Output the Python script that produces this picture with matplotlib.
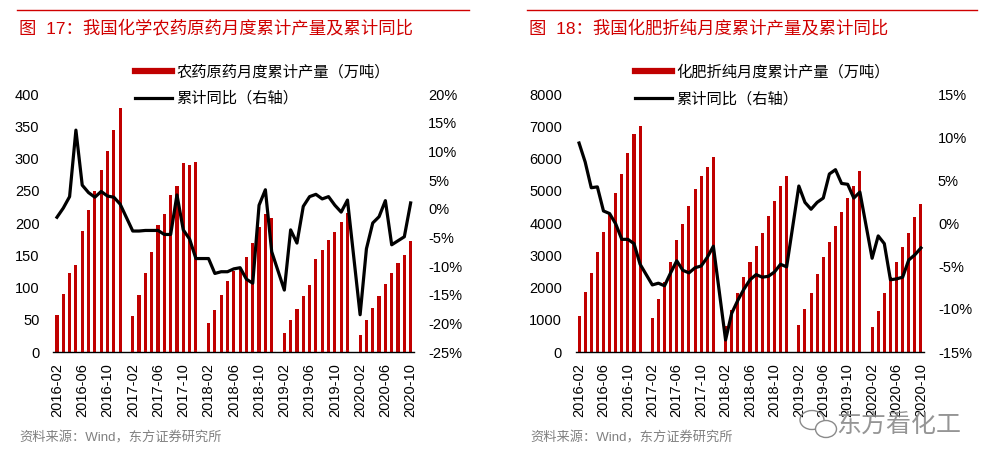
import numpy as np
import matplotlib
matplotlib.use("Agg")
import matplotlib.pyplot as plt
from matplotlib.lines import Line2D
from matplotlib.patches import Ellipse
from matplotlib.ticker import FuncFormatter

plt.rcParams['font.family'] = ['Liberation Sans', 'Noto Sans CJK SC']

# -----------------------
# Data (None = January, not reported)
# -----------------------
months = [f"{y}-{m:02d}" for y in range(2016, 2021) for m in range(1, 13)]
months = months[1:months.index("2020-10") + 1]

pesticide_output = [57, 90, 122, 135, 188, 220, 250, 282, 312, 344, 378, None,
                    56, 88, 122, 155, 197, 214, 243, 257, 293, 290, 295, None,
                    45, 65, 89, 110, 126, 128, 148, 169, 194, 214, 208, None,
                    30, 49, 67, 87, 104, 144, 158, 174, 186, 202, 215, None,
                    26, 50, 68, 87, 106, 122, 138, 150, 172]
pesticide_yoy = [-1.5, 0.1, 2.1, 13.7, 4.1, 2.8, 2.0, 3.0, 2.2, 2.0, 0.8, None,
                 -3.9, -3.9, -3.8, -3.8, -3.8, -4.5, -4.5, 2.4, -3.7, -5.3, -8.7, None,
                 -8.7, -11.3, -11.0, -11.0, -10.5, -10.3, -12.3, -13.0, 0.6, 3.3, -7.5, None,
                 -14.2, -3.7, -6.0, 0.4, 2.1, 2.5, 1.7, 2.1, 0.6, -0.6, 1.5, None,
                 -18.5, -7.0, -2.5, -1.4, 1.4, -6.3, -5.6, -4.9, 1.0]

fertilizer_output = [1108, 1853, 2453, 3095, 3716, 4296, 4927, 5517, 6178, 6758, 7006, None,
                     1046, 1658, 2173, 2806, 3468, 3965, 4523, 5051, 5455, 5725, 6035, None,
                     798, 1295, 1832, 2329, 2806, 3291, 3676, 4213, 4679, 5144, 5455, None,
                     829, 1326, 1832, 2412, 2950, 3397, 3912, 4337, 4781, 5144, 5620, None,
                     776, 1273, 1832, 2330, 2795, 3260, 3676, 4191, 4586]
fertilizer_yoy = [9.3, 7.1, 4.1, 4.2, 1.4, 1.1, -0.1, -1.9, -1.9, -2.4, -4.8, None,
                  -7.2, -7.0, -7.3, -5.8, -4.4, -5.5, -5.8, -5.2, -5.0, -4.0, -2.7, None,
                  -13.6, -10.5, -9.0, -7.7, -6.6, -6.0, -6.3, -6.2, -5.7, -4.8, -5.1, None,
                  4.3, 2.4, 1.6, 2.4, 2.9, 5.7, 6.2, 4.6, 4.5, 2.9, 3.6, None,
                  -4.1, -1.5, -2.4, -6.6, -6.5, -6.3, -4.3, -3.7, -2.9]

W, H = 991, 467
BAR_RED = '#C00000'
TITLE_RED = '#D00000'
GREY = '#808080'

fig = plt.figure(figsize=(W / 100, H / 100), dpi=100)


def panel(x0, x1, xpad, bars, yoy, lim_l, step_l, lim_r, title, bar_label,
          rule, title_x, legend_x, src_x):
    ax = fig.add_axes([x0 / W, 1 - 352 / H, (x1 - x0) / W, (352 - 94) / H])
    x = np.arange(len(months))
    b = np.array(bars, dtype=float)
    ok = ~np.isnan(b)
    ax.bar(x[ok], b[ok], width=0.5, color=BAR_RED, zorder=2)
    ax.set_xlim(-xpad, len(months) - 1 + xpad)
    ax.set_ylim(*lim_l)
    ax.set_yticks(np.arange(lim_l[0], lim_l[1] + 1, step_l))
    ax.set_xticks(x[::4])
    ax.set_xticklabels(months[::4], rotation=90)
    ax.tick_params(axis='both', length=0, labelsize=10.5, colors='black')
    ax.tick_params(axis='y', pad=10)
    ax.tick_params(axis='x', pad=8)
    for s in ['top', 'left', 'right']:
        ax.spines[s].set_visible(False)
    ax.spines['bottom'].set_color('black')
    ax.spines['bottom'].set_linewidth(1.0)

    ax2 = ax.twinx()
    y2 = np.array(yoy, dtype=float)
    ok2 = ~np.isnan(y2)
    ax2.plot(x[ok2], y2[ok2], color='black', lw=2.3, zorder=3)
    ax2.set_ylim(*lim_r)
    ax2.set_yticks(np.arange(lim_r[0], lim_r[1] + 1, 5))
    ax2.yaxis.set_major_formatter(FuncFormatter(lambda v, _: f"{v:.0f}%"))
    ax2.tick_params(axis='y', length=0, labelsize=10.5, pad=10, colors='black')
    for s in ax2.spines.values():
        s.set_visible(False)

    # title and red rule
    fig.add_artist(Line2D([rule[0] / W, rule[1] / W], [1 - 10 / H] * 2,
                          color=TITLE_RED, lw=1.0))
    fig.text(title_x / W, 1 - 28 / H, title, color=TITLE_RED, fontsize=12.5,
             va='center', ha='left')

    handles = [Line2D([], [], color=BAR_RED, lw=4.5),
               Line2D([], [], color='black', lw=2.3)]
    fig.legend(handles, [bar_label, "累计同比（右轴）"],
               loc='upper left', bbox_to_anchor=(legend_x / W, 1 - 65 / H),
               frameon=False, fontsize=11, handlelength=2.4,
               handletextpad=0.3, labelspacing=0.78, borderpad=0,
               borderaxespad=0)

    fig.text(src_x / W, 1 - 438 / H, "资料来源：Wind，东方证券研究所",
             color=GREY, fontsize=9.5, va='center', ha='left')
    return ax


panel(53.3, 414.3, 0.58, pesticide_output, pesticide_yoy, (0, 400), 50, (-25, 20),
      "图  17：我国化学农药原药月度累计产量及累计同比", "农药原药月度累计产量（万吨）",
      (17, 469), 19, 135, 19)
panel(576, 924, 0.5, fertilizer_output, fertilizer_yoy, (0, 8000), 1000, (-15, 15),
      "图  18：我国化肥折纯月度累计产量及累计同比", "化肥折纯月度累计产量（万吨）",
      (527, 977), 529, 635, 530)

# watermark with a rough chat-bubble icon
wm = '#8a8a8a'
fig.add_artist(Ellipse((812 / W, 1 - 420 / H), 24 / W, 19 / H, fill=False,
                       ec=wm, lw=1.0, transform=fig.transFigure))
fig.add_artist(Ellipse((826 / W, 1 - 429 / H), 21 / W, 17 / H, fill=True,
                       fc='white', ec=wm, lw=1.0, transform=fig.transFigure))
fig.text(899 / W, 1 - 425 / H, "东方看化工", color=wm, alpha=0.9,
         fontsize=18, va='center', ha='center', zorder=10)

fig.savefig("out.png", dpi=100)
